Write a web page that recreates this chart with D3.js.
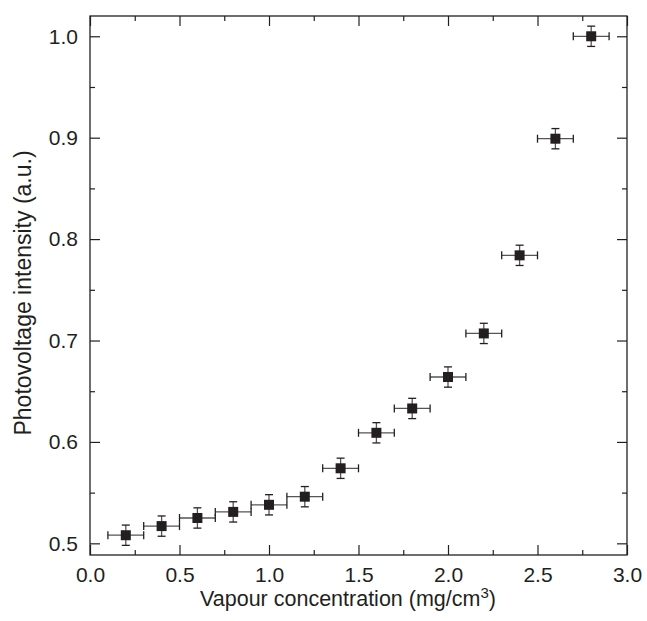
<!DOCTYPE html>
<html>
<head>
<meta charset="utf-8">
<script src="https://cdn.jsdelivr.net/npm/d3@7"></script>
<style>
    body { margin: 0; background: #fff; }
    svg text { font-family: "Liberation Sans", Arial, sans-serif; fill: #231f20; }
</style>
</head>
<body>
<div id="chart"></div>
<script>
// Data
const concentration = [0.2, 0.4, 0.6, 0.8, 1.0, 1.2, 1.4, 1.6, 1.8, 2.0, 2.2, 2.4, 2.6, 2.8];
const intensity = [0.508, 0.517, 0.525, 0.531, 0.538, 0.546, 0.574, 0.609, 0.633, 0.664, 0.707, 0.784, 0.899, 1.000];
const xError = 0.1;
const yError = 0.01;
const xTicks = [0.0, 0.5, 1.0, 1.5, 2.0, 2.5, 3.0];
const yTicks = [0.5, 0.6, 0.7, 0.8, 0.9, 1.0];

const width = 647, height = 621;
const margin = {top: 16, right: 20, bottom: 66, left: 90};
const ink = '#231f20';

const svg = d3.select('#chart').append('svg')
    .attr('width', width)
    .attr('height', height);

const innerW = width - margin.left - margin.right;
const innerH = height - margin.top - margin.bottom;

const g = svg.append('g')
    .attr('transform', `translate(${margin.left},${margin.top})`);

const x = d3.scaleLinear().domain([0, 3]).range([0, innerW]);
const y = d3.scaleLinear().domain([0.4885, 1.02]).range([innerH, 0]);

const minorX = d3.range(0.25, 3, 0.5);
const minorY = d3.range(0.55, 1.0, 0.1);

// bottom axis with labels
const axBottom = g.append('g')
    .attr('transform', `translate(0,${innerH})`)
    .call(d3.axisBottom(x).tickValues(xTicks).tickFormat(d3.format('.1f'))
        .tickSizeInner(-10).tickSizeOuter(0).tickPadding(12));
axBottom.append('g')
    .call(d3.axisBottom(x).tickValues(minorX).tickFormat('').tickSizeInner(-5).tickSizeOuter(0));

// top axis
const axTop = g.append('g')
    .call(d3.axisTop(x).tickValues(xTicks).tickFormat('').tickSizeInner(-10).tickSizeOuter(0));
axTop.append('g')
    .call(d3.axisTop(x).tickValues(minorX).tickFormat('').tickSizeInner(-5).tickSizeOuter(0));

// left axis with labels
const axLeft = g.append('g')
    .call(d3.axisLeft(y).tickValues(yTicks).tickFormat(d3.format('.1f'))
        .tickSizeInner(-10).tickSizeOuter(0).tickPadding(12));
axLeft.append('g')
    .call(d3.axisLeft(y).tickValues(minorY).tickFormat('').tickSizeInner(-5).tickSizeOuter(0));

// right axis
const axRight = g.append('g')
    .attr('transform', `translate(${innerW},0)`)
    .call(d3.axisRight(y).tickValues(yTicks).tickFormat('').tickSizeInner(-10).tickSizeOuter(0));
axRight.append('g')
    .call(d3.axisRight(y).tickValues(minorY).tickFormat('').tickSizeInner(-5).tickSizeOuter(0));

g.selectAll('.domain').remove();
g.selectAll('.tick line').attr('stroke', ink).attr('stroke-width', 1.2);
g.selectAll('.tick text').attr('font-size', 21).attr('fill', ink);

// frame
g.append('rect')
    .attr('width', innerW)
    .attr('height', innerH)
    .attr('fill', 'none')
    .attr('stroke', ink)
    .attr('stroke-width', 1.3);

// error bars + markers
const pts = concentration.map((c, i) => ({x: c, y: intensity[i]}));
const cap = 4;
const bars = g.append('g').attr('class', 'errorbars');

pts.forEach(d => {
    const cx = x(d.x), cy = y(d.y);
    const x0 = x(d.x - xError), x1 = x(d.x + xError);
    const y0 = y(d.y - yError), y1 = y(d.y + yError);
    bars.append('line').attr('x1', x0).attr('x2', x1).attr('y1', cy).attr('y2', cy)
        .attr('stroke', '#555').attr('stroke-width', 1.3);
    bars.append('line').attr('x1', cx).attr('x2', cx).attr('y1', y0).attr('y2', y1)
        .attr('stroke', '#555').attr('stroke-width', 1.3);
    [x0, x1].forEach(xx => bars.append('line')
        .attr('x1', xx).attr('x2', xx).attr('y1', cy - cap).attr('y2', cy + cap)
        .attr('stroke', ink).attr('stroke-width', 1.3));
    [y0, y1].forEach(yy => bars.append('line')
        .attr('x1', cx - cap).attr('x2', cx + cap).attr('y1', yy).attr('y2', yy)
        .attr('stroke', ink).attr('stroke-width', 1.3));
});

const size = 10;
g.selectAll('rect.pt')
    .data(pts)
    .enter()
    .append('rect')
    .attr('class', 'pt')
    .attr('x', d => x(d.x) - size / 2)
    .attr('y', d => y(d.y) - size / 2)
    .attr('width', size)
    .attr('height', size)
    .attr('fill', ink);

// axis titles
const xTitle = svg.append('text')
    .attr('x', 348)
    .attr('y', 606)
    .attr('text-anchor', 'middle')
    .attr('font-size', 21.5);
xTitle.append('tspan').text('Vapour concentration (mg/cm');
xTitle.append('tspan').attr('font-size', 15).attr('dy', -8).text('3');
xTitle.append('tspan').attr('dy', 8).text(')');

svg.append('text')
    .attr('transform', 'translate(31,293) rotate(-90)')
    .attr('text-anchor', 'middle')
    .attr('font-size', 23)
    .text('Photovoltage intensity (a.u.)');
</script>
</body>
</html>
